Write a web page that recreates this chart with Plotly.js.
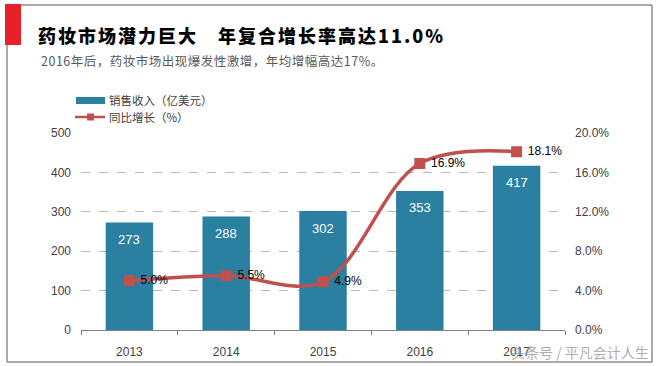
<!DOCTYPE html>
<html>
<head>
<meta charset="utf-8">
<script src="https://cdn.plot.ly/plotly-3.0.1.min.js"></script>
<style>html,body{margin:0;padding:0;background:#fff;}#chart{width:659px;height:366px;}</style>
</head>
<body>
<div id="chart"></div>
<script>
// ---- data ----
const years = ['2013', '2014', '2015', '2016', '2017'];
const sales = [273, 288, 302, 353, 417];              // 销售收入（亿美元）
const growth = [0.050, 0.055, 0.049, 0.169, 0.181];   // 同比增长（%）
const seriesNames = ['销售收入（亿美元）', '同比增长（%）'];
const titleText = '药妆市场潜力巨大　年复合增长率高达11.0%';
const subtitleText = '2016年后，药妆市场出现爆发性激增，年均增幅高达17%。';
const watermarkText = '头条号 / 平凡会计人生';

// ---- layout geometry (pixels) ----
const W = 659, H = 366;
const L = 81, R = 565, T = 133, B = 330;
const pw = R - L, ph = B - T;
const fx = px => (px - L) / pw;
const fy = py => (B - py) / ph;

const barColor = '#2B7FA0';
const lineColor = '#C0504D';
const frameColor = '#8C8C8C';
const tickFont = {family: 'Liberation Sans, Arial, sans-serif', size: 12, color: '#404040'};
const cjk = 'Noto Sans CJK SC, sans-serif';

const traces = [
  {
    type: 'bar', x: years, y: sales, name: seriesNames[0],
    marker: {color: barColor}, yaxis: 'y', hoverinfo: 'skip', showlegend: false
  },
  {
    type: 'scatter', mode: 'lines+markers+text', x: years, y: growth, name: seriesNames[1],
    yaxis: 'y2', line: {color: lineColor, width: 3.5, shape: 'spline', smoothing: 1},
    marker: {color: lineColor, symbol: 'square', size: 11},
    text: growth.map(v => '\u00a0' + (v * 100).toFixed(1) + '%'),
    textposition: 'middle right',
    textfont: {family: 'Liberation Sans, Arial, sans-serif', size: 12, color: '#000'},
    cliponaxis: false, showlegend: false, hoverinfo: 'skip'
  }
];

const annotations = [];
// bar value labels (category index positions)
years.forEach((yr, i) => {
  annotations.push({
    x: i, y: sales[i], xref: 'x', yref: 'y', text: String(sales[i]),
    showarrow: false, yanchor: 'middle', yshift: -17,
    font: {family: 'Liberation Sans, Arial, sans-serif', size: 13, color: '#ffffff'}
  });
});
// subtitle
annotations.push({
  xref: 'paper', yref: 'paper', x: fx(39), y: fy(60), xanchor: 'left', yanchor: 'middle',
  text: '<span style="letter-spacing:0.5px">' + subtitleText + '</span>', showarrow: false,
  font: {family: cjk, size: 12.5, color: '#595959'}
});
// legend texts
annotations.push({
  xref: 'paper', yref: 'paper', x: fx(107), y: fy(100), xanchor: 'left', yanchor: 'middle',
  text: seriesNames[0], showarrow: false, font: {family: cjk, size: 11.5, color: '#404040'}
});
annotations.push({
  xref: 'paper', yref: 'paper', x: fx(107), y: fy(117), xanchor: 'left', yanchor: 'middle',
  text: seriesNames[1], showarrow: false, font: {family: cjk, size: 11.5, color: '#404040'}
});
// watermark
annotations.push({
  xref: 'paper', yref: 'paper', x: fx(651), y: fy(352), xanchor: 'right', yanchor: 'middle',
  text: watermarkText, showarrow: false, font: {family: cjk, size: 14, color: 'rgba(150,150,150,0.8)'}
});

const shapes = [
  // frame
  {type: 'line', xref: 'paper', yref: 'paper', x0: fx(20), x1: fx(652), y0: fy(5), y1: fy(5), line: {color: frameColor, width: 1.5}},
  {type: 'line', xref: 'paper', yref: 'paper', x0: fx(652), x1: fx(652), y0: fy(5), y1: fy(362), line: {color: frameColor, width: 1.5}},
  {type: 'line', xref: 'paper', yref: 'paper', x0: fx(7), x1: fx(652), y0: fy(362), y1: fy(362), line: {color: frameColor, width: 1.5}},
  {type: 'line', xref: 'paper', yref: 'paper', x0: fx(7), x1: fx(7), y0: fy(45), y1: fy(362), line: {color: frameColor, width: 1.5}},
  // red tab
  {type: 'rect', xref: 'paper', yref: 'paper', x0: fx(5), x1: fx(21), y0: fy(4), y1: fy(45), fillcolor: '#E8202A', line: {width: 0}},
  // legend symbols
  {type: 'rect', xref: 'paper', yref: 'paper', x0: fx(76), x1: fx(105), y0: fy(97), y1: fy(104), fillcolor: barColor, line: {width: 0}},
  {type: 'line', xref: 'paper', yref: 'paper', x0: fx(75), x1: fx(105), y0: fy(117), y1: fy(117), line: {color: lineColor, width: 2.5}},
  {type: 'rect', xref: 'paper', yref: 'paper', x0: fx(87), x1: fx(94), y0: fy(113.5), y1: fy(120.5), fillcolor: lineColor, line: {width: 0}}
];

const layout = {
  width: W, height: H,
  margin: {l: L, r: W - R, t: T, b: H - B, pad: 0},
  paper_bgcolor: '#ffffff', plot_bgcolor: '#ffffff',
  showlegend: false,
  bargap: 0.51,
  title: {
    text: '<span style="letter-spacing:2px">' + titleText + '</span>',
    xref: 'container', yref: 'container', x: 38 / W, xanchor: 'left', y: 1 - 37 / H, yanchor: 'middle',
    font: {family: cjk, size: 18, color: '#000000', weight: 900}
  },
  xaxis: {
    type: 'category', range: [-0.5, years.length - 0.5], showgrid: false, zeroline: false,
    showline: true, linecolor: '#808080', linewidth: 1,
    ticks: 'outside', tickson: 'boundaries', ticklen: 4, tickcolor: '#808080',
    tickfont: tickFont, ticklabelstandoff: 11, fixedrange: true
  },
  yaxis: {
    range: [0, 500], dtick: 100, showline: false, zeroline: false,
    showgrid: true, gridcolor: '#B8B8B8', griddash: 'dash', gridwidth: 1,
    tickfont: tickFont, ticklabelstandoff: 9
  },
  yaxis2: {
    overlaying: 'y', side: 'right', range: [0, 0.2], dtick: 0.04, tickformat: '.1%',
    showline: false, zeroline: false, showgrid: false,
    tickfont: tickFont, ticklabelstandoff: 9
  },
  annotations: annotations,
  shapes: shapes
};

Plotly.newPlot('chart', traces, layout, {staticPlot: true, displayModeBar: false});
</script>
</body>
</html>
